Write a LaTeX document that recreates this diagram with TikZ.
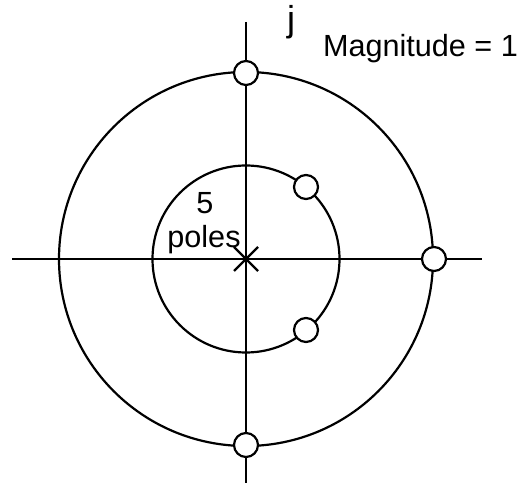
\documentclass[tikz,border=0pt]{standalone}
\usepackage{fontspec}
\setmainfont{Liberation Sans}
\begin{document}
\begin{tikzpicture}[x=1pt,y=-1pt,line width=2.2pt,
  zero/.style={circle,draw,fill=white,minimum size=24pt,inner sep=0pt,line width=2.2pt},
  lbl/.style={font=\fontsize{30.6}{34}\selectfont,inner sep=0pt,anchor=base}]
\useasboundingbox (0,0) rectangle (520,494);
\coordinate (c) at (246,259);
\coordinate (l) at (12,259);
\coordinate (r) at (482,259);
\coordinate (t) at (246,22);
\coordinate (b) at (246,483);
\draw (l) -- (r);
\draw (t) -- (b);
\draw (c) circle[radius=187];
\draw (c) circle[radius=93.5];
\draw ([shift={(-12,-12)}]c) -- ([shift={(12,12)}]c);
\draw ([shift={(-12,12)}]c) -- ([shift={(12,-12)}]c);
\node[zero] (z1) at (246,73) {};
\node[zero] (z2) at (434,259) {};
\node[zero] (z3) at (246,445) {};
\node[zero] (z4) at (306,187) {};
\node[zero] (z5) at (306,330) {};
\node[lbl,font=\fontsize{36}{40}\selectfont] (j) at (291,32) {j};
\node[lbl,anchor=base west] (mag) at (322,57) {Magnitude = 1};
\node[lbl] (five) at (205,214) {5};
\node[lbl] (poles) at (204,248) {poles};
\end{tikzpicture}
\end{document}
